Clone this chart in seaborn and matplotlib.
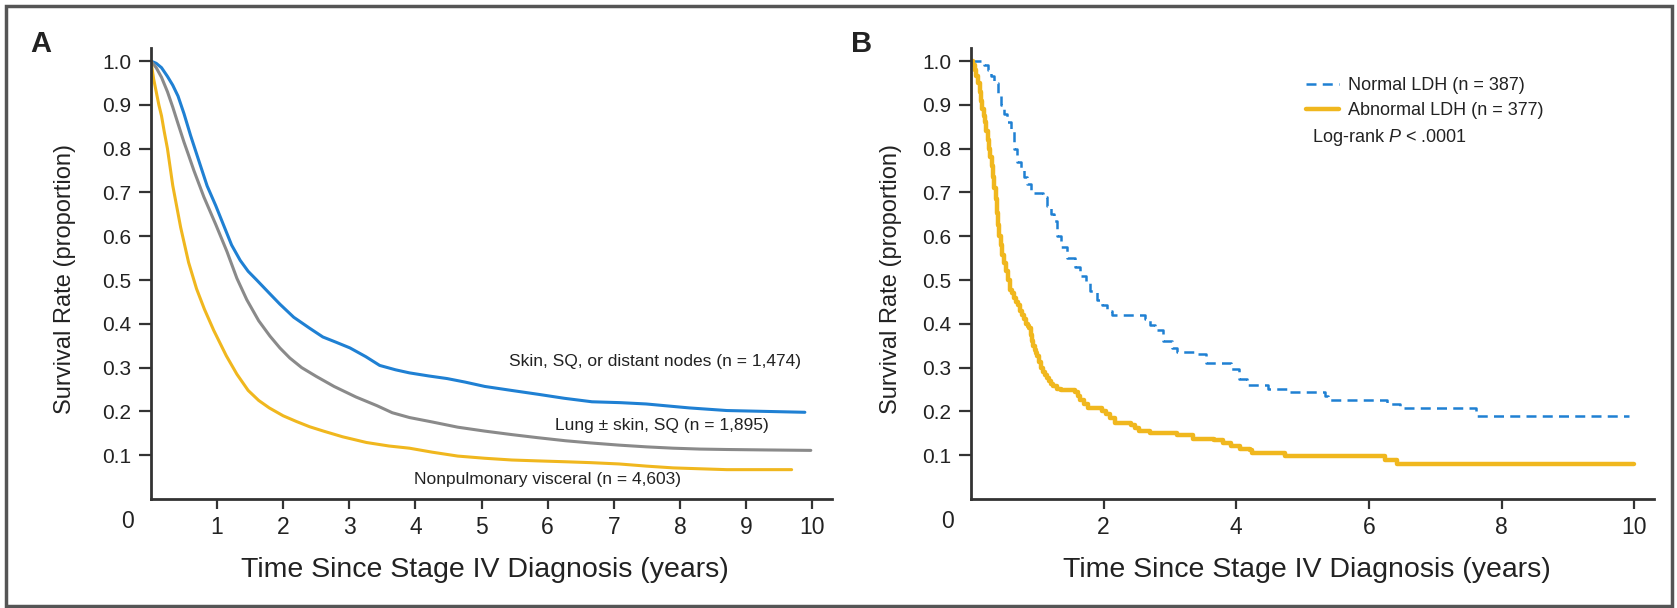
import numpy as np
import matplotlib.pyplot as plt
import seaborn as sns
from matplotlib.patches import Rectangle

# Panel A: survival by metastatic site
skin_t = [0, 0.08, 0.16, 0.25, 0.33, 0.41, 0.5, 0.6, 0.73, 0.85, 0.98, 1.1, 1.22, 1.35, 1.47,
          1.6, 1.79, 1.95, 2.16, 2.4, 2.6, 2.8, 3.01, 3.25, 3.46, 3.7, 3.91, 4.2, 4.48, 4.75,
          5.05, 5.45, 5.86, 6.25, 6.67, 7.1, 7.49, 8.14, 8.71, 9.3, 9.89]
skin_s = [1.0, 0.995, 0.985, 0.965, 0.945, 0.92, 0.88, 0.83, 0.77, 0.715, 0.67, 0.625, 0.58,
          0.545, 0.52, 0.5, 0.47, 0.445, 0.415, 0.39, 0.37, 0.358, 0.345, 0.325, 0.305, 0.295,
          0.288, 0.281, 0.275, 0.267, 0.257, 0.248, 0.239, 0.23, 0.222, 0.22, 0.217, 0.208,
          0.202, 0.2, 0.198]
lung_t = [0, 0.08, 0.16, 0.25, 0.33, 0.41, 0.5, 0.57, 0.65, 0.8, 0.98, 1.15, 1.3, 1.45, 1.63,
          1.8, 1.95, 2.1, 2.28, 2.5, 2.77, 3.1, 3.42, 3.65, 3.91, 4.25, 4.64, 5.05, 5.46, 5.85,
          6.27, 6.65, 7.08, 7.5, 7.9, 8.3, 8.71, 9.3, 9.98]
lung_s = [1.0, 0.985, 0.963, 0.93, 0.895, 0.857, 0.815, 0.785, 0.75, 0.69, 0.627, 0.565,
          0.504, 0.455, 0.407, 0.372, 0.345, 0.322, 0.30, 0.28, 0.257, 0.233, 0.213, 0.197,
          0.186, 0.176, 0.164, 0.155, 0.147, 0.14, 0.133, 0.128, 0.123, 0.119, 0.116, 0.114,
          0.113, 0.112, 0.111]
visc_t = [0, 0.04, 0.08, 0.12, 0.16, 0.2, 0.25, 0.33, 0.45, 0.57, 0.69, 0.81, 0.95, 1.14, 1.3,
          1.47, 1.63, 1.79, 2.0, 2.2, 2.4, 2.61, 2.9, 3.26, 3.6, 3.91, 4.25, 4.64, 5.05, 5.46,
          5.85, 6.27, 6.65, 7.08, 7.5, 7.9, 8.3, 8.71, 9.2, 9.69]
visc_s = [1.0, 0.96, 0.93, 0.9, 0.875, 0.84, 0.8, 0.716, 0.62, 0.54, 0.48, 0.433, 0.385, 0.327,
          0.285, 0.248, 0.225, 0.208, 0.19, 0.177, 0.165, 0.155, 0.142, 0.129, 0.121, 0.116,
          0.107, 0.098, 0.093, 0.089, 0.087, 0.085, 0.083, 0.08, 0.075, 0.071, 0.069, 0.067,
          0.067, 0.067]

labels_a = ['Skin, SQ, or distant nodes (n = 1,474)', 'Lung \u00b1 skin, SQ (n = 1,895)',
            'Nonpulmonary visceral (n = 4,603)']

# Panel B: survival by LDH level (step curves)
norm_t = [0, 0.15, 0.2, 0.25, 0.3, 0.35, 0.4, 0.45, 0.5, 0.55, 0.6, 0.65, 0.7, 0.75, 0.8,
          0.85, 0.9, 0.95, 1.08, 1.15, 1.2, 1.25, 1.3, 1.36, 1.45, 1.57, 1.65, 1.73, 1.8,
          1.9, 1.97, 2.05, 2.13, 2.62, 2.7, 2.78, 2.9, 3.03, 3.11, 3.39, 3.55, 3.92, 4.04,
          4.16, 4.48, 4.81, 5.34, 5.38, 6.27, 6.47, 7.61, 9.92]
norm_s = [1.0, 1.0, 0.99, 0.98, 0.965, 0.95, 0.92, 0.9, 0.88, 0.86, 0.845, 0.8, 0.77, 0.755,
          0.735, 0.72, 0.705, 0.698, 0.69, 0.67, 0.65, 0.635, 0.6, 0.575, 0.55, 0.53, 0.51,
          0.495, 0.475, 0.455, 0.442, 0.43, 0.42, 0.411, 0.398, 0.385, 0.36, 0.345, 0.336,
          0.332, 0.31, 0.297, 0.275, 0.261, 0.252, 0.244, 0.235, 0.226, 0.217, 0.208, 0.19,
          0.19]
abn_t = [0, 0.03, 0.06, 0.08, 0.1, 0.13, 0.15, 0.17, 0.19, 0.21, 0.23, 0.25, 0.27, 0.29, 0.31,
         0.33, 0.35, 0.37, 0.39, 0.41, 0.43, 0.45, 0.47, 0.5, 0.53, 0.56, 0.59, 0.62, 0.65,
         0.68, 0.71, 0.74, 0.77, 0.8, 0.83, 0.86, 0.88, 0.9, 0.92, 0.94, 0.96, 0.98, 1.0,
         1.03, 1.06, 1.09, 1.12, 1.15, 1.18, 1.21, 1.24, 1.3, 1.36, 1.57, 1.61, 1.65, 1.71,
         1.77, 1.97, 2.03, 2.09, 2.17, 2.42, 2.48, 2.54, 2.7, 3.11, 3.35, 3.67, 3.8, 3.92,
         4.05, 4.2, 4.24, 4.73, 6.24, 6.43, 10.0]
abn_s = [1.0, 0.99, 0.98, 0.965, 0.95, 0.93, 0.91, 0.89, 0.875, 0.86, 0.84, 0.82, 0.8, 0.78,
         0.76, 0.735, 0.71, 0.685, 0.654, 0.625, 0.6, 0.58, 0.557, 0.54, 0.52, 0.5, 0.478,
         0.47, 0.46, 0.45, 0.442, 0.43, 0.42, 0.41, 0.4, 0.395, 0.39, 0.375, 0.36, 0.35,
         0.34, 0.333, 0.327, 0.312, 0.3, 0.29, 0.283, 0.277, 0.27, 0.263, 0.257, 0.252, 0.248,
         0.244, 0.235, 0.226, 0.217, 0.208, 0.2, 0.193, 0.186, 0.173, 0.169, 0.162, 0.155,
         0.151, 0.147, 0.138, 0.134, 0.127, 0.12, 0.115, 0.111, 0.105, 0.098, 0.09, 0.08,
         0.08]

labels_b = ['Normal LDH (n = 387)', 'Abnormal LDH (n = 377)']

BLUE = '#1f80d3'
GRAY = '#8a8a8a'
YELLOW = '#f0b71e'
AXC = '#333333'
TXT = '#222222'

sns.set_theme(style='white')
plt.rcParams['font.family'] = ['Liberation Sans', 'DejaVu Sans']
plt.rcParams['mathtext.fontset'] = 'custom'
plt.rcParams['mathtext.rm'] = 'Liberation Sans'
plt.rcParams['mathtext.it'] = 'Liberation Sans:italic'

fig = plt.figure(figsize=(16.77, 6.08), dpi=100)
axA = fig.add_axes([0.0900, 0.1793, 0.4061, 0.7418])
axB = fig.add_axes([0.5790, 0.1793, 0.4073, 0.7418])


def style_axes(ax, xticks, xlab_x, ylab_x):
    ax.set_xlim(0, 10.3)
    ax.set_ylim(0, 1.03)
    sns.despine(ax=ax)
    for s in ['left', 'bottom']:
        ax.spines[s].set_color(AXC)
        ax.spines[s].set_linewidth(2)
    yt = np.round(np.arange(0.1, 1.01, 0.1), 1)
    ax.set_yticks(yt)
    ax.set_yticklabels(['%.1f' % v for v in yt])
    ax.set_xticks(xticks)
    ax.set_xticklabels([str(v) for v in xticks])
    ax.tick_params(axis='y', direction='out', length=9, width=1.6, color=AXC,
                   pad=5, labelsize=15, labelcolor=TXT, left=True)
    ax.tick_params(axis='x', direction='out', length=7, width=1.6, color=AXC,
                   pad=5, labelsize=16.5, labelcolor=TXT, bottom=True)
    ax.text(-0.35, -0.052, '0', ha='center', va='center', fontsize=16.5,
            color=TXT, clip_on=False)
    ax.set_xlabel('Time Since Stage IV Diagnosis (years)', fontsize=20.5, color=TXT)
    ax.xaxis.set_label_coords(xlab_x, -0.128)
    ax.set_ylabel('')
    ax.text(ylab_x, 0.488, 'Survival Rate (proportion)', rotation=90, ha='center',
            va='center', fontsize=17, color=TXT, transform=ax.transAxes)


# Panel A
sns.lineplot(x=skin_t, y=skin_s, ax=axA, color=BLUE, linewidth=2.2, estimator=None, sort=False)
sns.lineplot(x=lung_t, y=lung_s, ax=axA, color=GRAY, linewidth=2.2, estimator=None, sort=False)
sns.lineplot(x=visc_t, y=visc_s, ax=axA, color=YELLOW, linewidth=2.2, estimator=None, sort=False)
style_axes(axA, list(range(1, 11)), 0.49, -0.126)
axA.text(9.83, 0.315, labels_a[0], ha='right', va='center', fontsize=12.5, color=TXT)
axA.text(9.35, 0.168, labels_a[1], ha='right', va='center', fontsize=12.5, color=TXT)
axA.text(8.02, 0.045, labels_a[2], ha='right', va='center', fontsize=12.5, color=TXT)

# Panel B
sns.lineplot(x=norm_t, y=norm_s, ax=axB, color=BLUE, linewidth=1.8, estimator=None,
             sort=False, drawstyle='steps-post', linestyle=(0, (4, 2.5)), label=labels_b[0])
sns.lineplot(x=abn_t, y=abn_s, ax=axB, color=YELLOW, linewidth=3.2, estimator=None,
             sort=False, drawstyle='steps-post', label=labels_b[1])
style_axes(axB, [2, 4, 6, 8, 10], 0.492, -0.117)
axB.legend(loc='upper left', bbox_to_anchor=(1306 / 1677, 1 - 77 / 608),
           bbox_transform=fig.transFigure, frameon=False, fontsize=13,
           handlelength=1.85, handletextpad=0.5, labelspacing=0.45,
           borderpad=0, borderaxespad=0, labelcolor=TXT)
fig.text(1312 / 1677, 1 - 137 / 608, 'Log-rank $P$ < .0001', va='center', ha='left',
         fontsize=13, color=TXT)

# panel letters and outer frame
fig.text(30 / 1677, 1 - 52 / 608, 'A', fontsize=21, fontweight='bold', color=TXT, va='baseline')
fig.text(851 / 1677, 1 - 52 / 608, 'B', fontsize=21, fontweight='bold', color=TXT, va='baseline')
fig.add_artist(Rectangle((6 / 1677, 2 / 608), 1666 / 1677, 600 / 608, transform=fig.transFigure,
                         fill=False, edgecolor='#555555', linewidth=2.5))

fig.savefig('out.png', dpi=100)
